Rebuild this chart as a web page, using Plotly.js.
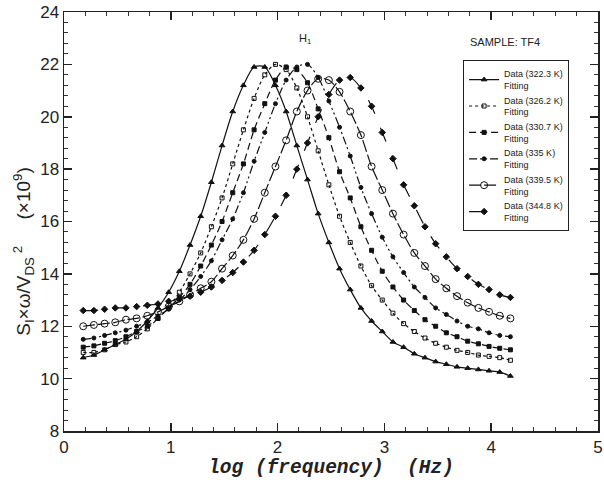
<!DOCTYPE html>
<html>
<head>
<meta charset="utf-8">
<script src="https://cdn.plot.ly/plotly-3.0.1.min.js"></script>
<style>html,body{margin:0;padding:0;background:#fff;}#chart{width:604px;height:495px;}</style>
</head>
<body>
<div id="chart"></div>
<script>
// log(frequency) values of the measured points
const logFreq = [0.18,0.28,0.38,0.48,0.58,0.68,0.78,0.88,0.98,1.08,
                 1.18,1.28,1.38,1.48,1.58,1.68,1.78,1.88,1.98,2.08,
                 2.18,2.28,2.38,2.48,2.58,2.68,2.78,2.88,2.98,3.08,
                 3.18,3.28,3.38,3.48,3.58,3.68,3.78,3.88,3.98,4.08,4.18];

const seriesNames = ["Data (322.3 K)","Data (326.2 K)","Data (330.7 K)","Data (335 K)","Data (339.5 K)","Data (344.8 K)"];

const y322 = [10.8,10.9,11.1,11.3,11.5,11.8,12.2,12.7,13.3,14.1,
              15.1,16.2,17.5,18.9,20.2,21.2,21.9,21.9,21.2,20.2,
              18.9,17.6,16.3,15.2,14.2,13.4,12.7,12.2,11.8,11.4,
              11.2,10.95,10.8,10.65,10.55,10.45,10.4,10.35,10.3,10.25,10.1];
const y326 = [11.0,11.0,11.1,11.3,11.4,11.6,11.9,12.3,12.7,13.3,
              14.0,14.8,15.8,16.9,18.2,19.5,20.7,21.6,22.0,21.8,
              21.1,20.0,18.7,17.4,16.2,15.2,14.3,13.55,13.0,12.5,
              12.1,11.8,11.55,11.35,11.2,11.08,11.0,10.9,10.85,10.8,10.7];
const y331 = [11.2,11.25,11.35,11.45,11.6,11.8,12.0,12.3,12.7,13.1,
              13.6,14.3,15.1,16.0,17.1,18.2,19.5,20.5,21.4,21.9,
              21.8,21.3,20.3,19.2,17.9,16.9,15.8,14.9,14.1,13.5,
              13.0,12.6,12.25,12.0,11.75,11.6,11.43,11.33,11.23,11.16,11.1];
const y335 = [11.5,11.55,11.65,11.75,11.85,12.0,12.15,12.4,12.65,13.0,
              13.4,13.9,14.5,15.3,16.1,17.1,18.3,19.4,20.5,21.4,
              21.9,22.0,21.5,20.6,19.6,18.5,17.3,16.3,15.4,14.65,
              14.05,13.5,13.1,12.7,12.45,12.2,12.0,11.9,11.75,11.65,11.6];
const y340 = [12.0,12.05,12.1,12.15,12.25,12.3,12.4,12.55,12.75,12.95,
              13.2,13.45,13.7,14.2,14.7,15.3,16.1,17.1,18.1,19.1,
              20.2,21.0,21.45,21.4,20.95,20.2,19.3,18.1,17.2,16.3,
              15.5,14.8,14.3,13.8,13.45,13.15,12.9,12.7,12.55,12.4,12.3];
const y345 = [12.6,12.6,12.65,12.7,12.7,12.75,12.8,12.85,12.95,13.05,
              13.15,13.3,13.5,13.75,14.05,14.45,14.9,15.5,16.2,17.0,
              18.0,19.0,20.0,20.85,21.4,21.5,21.1,20.4,19.4,18.4,
              17.4,16.6,15.8,15.15,14.65,14.2,13.9,13.6,13.4,13.2,13.1];

const yValues = [y322,y326,y331,y335,y340,y345];
const markerSymbols = ["triangle-up","square-open","square","circle","circle-open","diamond"];
const markerSizes = [5,4,4,4,7,5];
const dashes = ["solid","3px,3px","7px,4px","8px,3px,2px,3px,2px,3px","12px,3px","longdash"];

const traces = seriesNames.map((name,i)=>({
  x: logFreq, y: yValues[i],
  type: "scatter", mode: "lines+markers",
  name: name + "<br>Fitting",
  line: {color:"#111", width:1.2, dash:dashes[i], shape:"spline", smoothing:0.8},
  marker: {symbol:markerSymbols[i], size:markerSizes[i], color:"#111", line:{color:"#111", width:1}}
}));

const axisFont = {family:"Liberation Sans, Arial, sans-serif", size:17, color:"#222"};

const layout = {
  width:604, height:495,
  margin:{l:64, r:6, t:12, b:64},
  paper_bgcolor:"#fff", plot_bgcolor:"#fff",
  showlegend:true,
  legend:{x:0.747, y:0.885, xanchor:"left", yanchor:"top",
          bgcolor:"#fff", bordercolor:"#222", borderwidth:1.2,
          font:{family:"Liberation Sans, Arial, sans-serif", size:9, color:"#222"},
          itemwidth:30, tracegroupgap:0},
  xaxis:{range:[0,5], dtick:1, tick0:0, ticks:"inside", ticklen:8, tickwidth:1.5, tickcolor:"#222",
         showline:true, linecolor:"#222", linewidth:1.5, mirror:"ticks", showgrid:false, zeroline:false,
         minor:{dtick:0.2, ticks:"inside", ticklen:4, tickwidth:1, tickcolor:"#333", showgrid:false},
         tickfont:axisFont,
         title:{text:"<b><i>log (frequency)  (Hz)</i></b>", standoff:2,
                font:{family:"Liberation Mono, Courier New, monospace", size:19.5, color:"#222"}}},
  yaxis:{range:[8,24], dtick:2, tick0:8, ticks:"inside", ticklen:8, tickwidth:1.5, tickcolor:"#222",
         showline:true, linecolor:"#222", linewidth:1.5, mirror:"ticks", showgrid:false, zeroline:false,
         minor:{dtick:0.4, ticks:"inside", ticklen:4, tickwidth:1, tickcolor:"#333", showgrid:false},
         tickfont:axisFont},
  annotations:[
    {xref:"paper", yref:"paper", x:-0.075, y:0.43, xanchor:"center", yanchor:"middle", textangle:-90,
     text:"S<sub>I</sub>×ω/V<sub>DS</sub><sup> 2</sup>\u00A0\u00A0\u00A0\u00A0\u00A0(×10<sup>9</sup>)", showarrow:false,
     font:{family:"Liberation Sans, Arial, sans-serif", size:19, color:"#222"}},
    {xref:"paper", yref:"paper", x:0.451, y:0.935, xanchor:"center", yanchor:"middle",
     text:"H<sub>1</sub>", showarrow:false,
     font:{family:"Liberation Sans, Arial, sans-serif", size:11, color:"#222"}},
    {xref:"paper", yref:"paper", x:0.826, y:0.928, xanchor:"center", yanchor:"middle",
     text:"SAMPLE: TF4", showarrow:false,
     font:{family:"Liberation Sans, Arial, sans-serif", size:11, color:"#222"}}
  ]
};

Plotly.newPlot("chart", traces, layout, {displayModeBar:false, staticPlot:true});
</script>
</body>
</html>
